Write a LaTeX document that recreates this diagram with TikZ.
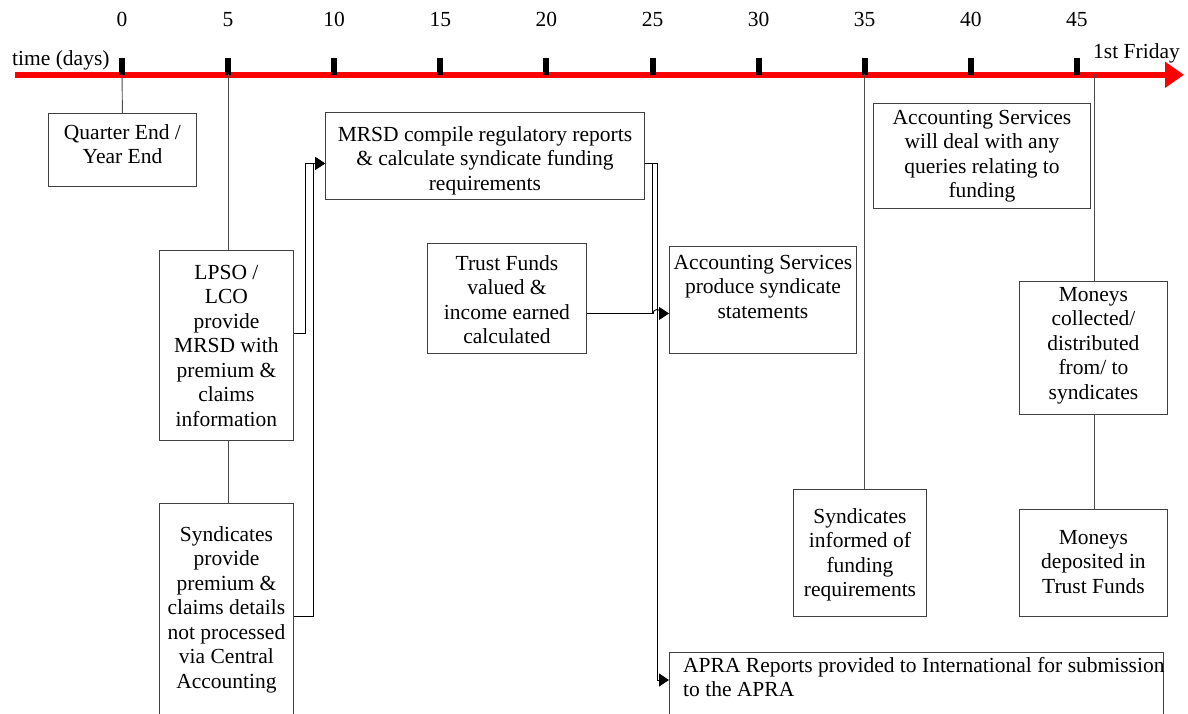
\documentclass[tikz,border=0pt]{standalone}
\usepackage{fontspec}
\setmainfont{Liberation Serif}
\newfontfamily\boxfont{Liberation Serif}
\usepackage{tikz}
\usetikzlibrary{arrows.meta, positioning, calc}

\begin{document}
\begin{tikzpicture}[
  x=1pt, y=-1pt,
  font=\boxfont\fontsize{21.5}{24.5}\selectfont,
  box/.style={draw=black!75, line width=0.9pt, anchor=north west, inner sep=0pt},
  boxtext/.style={anchor=north, align=center, inner sep=0pt},
  link/.style={black, line width=0.9pt},
  arr/.style={link, -{Triangle[length=10pt, width=13pt]}},
  tline/.style={black!70, line width=0.9pt},
]

  \useasboundingbox (0,0) rectangle (1188,713);
  \clip (0,0) rectangle (1188,713);

  % ── Time axis ──
  \coordinate (tstart) at (15,74.8);
  \coordinate (tend) at (1184,74.8);
  \draw[red, line width=6pt, -{Triangle[length=19pt, width=25pt]}] (tstart) -- (tend);
  \foreach \d in {0,5,...,45} {
    \coordinate (t\d) at ({122+\d*21.22},74);
    \fill (t\d) ++(-3,-16) rectangle ++(6,17);
    \node[anchor=base] at ({122+\d*21.22},26) {\d};
  }
  \coordinate (fri) at (1094,74);
  \node[anchor=base west, inner sep=0pt] (days) at (12,65) {time (days)};
  \node[anchor=base west, inner sep=0pt] (friday) at (1093,58) {1st Friday};

  % ── Boxes ──
  \node[box, minimum width=148, minimum height=73] (qe) at (48,113) {};
  \node[boxtext] (qe-t) at ([yshift=-11pt]qe.north) {Quarter End /\\Year End};

  \node[box, minimum width=134, minimum height=190] (lpso) at (159,250) {};
  \node[boxtext] (lpso-t) at ([yshift=-15pt]lpso.north) {LPSO /\\LCO\\provide\\MRSD with\\premium \&\\claims\\information};

  \node[box, minimum width=134, minimum height=260] (synd) at (159,503) {};
  \node[boxtext] (synd-t) at ([yshift=-23pt]synd.north) {Syndicates\\provide\\premium \&\\claims details\\not processed\\via Central\\Accounting};

  \node[box, minimum width=319, minimum height=87] (mrsd) at (325,112) {};
  \node[boxtext] (mrsd-t) at ([yshift=-14pt]mrsd.north) {MRSD compile regulatory reports\\\& calculate syndicate funding\\requirements};

  \node[box, minimum width=159, minimum height=110] (trust) at (427,243) {};
  \node[boxtext] (trust-t) at ([yshift=-12pt]trust.north) {Trust Funds\\valued \&\\income earned\\calculated};

  \node[box, minimum width=187, minimum height=107] (accstmt) at (669,246) {};
  \node[boxtext] (accstmt-t) at ([yshift=-9pt]accstmt.north) {Accounting Services\\produce syndicate\\statements};

  \node[box, minimum width=217, minimum height=105] (accq) at (873,103) {};
  \node[boxtext] (accq-t) at ([yshift=-7pt]accq.north) {Accounting Services\\will deal with any\\queries relating to\\funding};

  \node[box, minimum width=494, minimum height=100] (apra) at (669,652) {};
  \node[boxtext, anchor=north west, align=left] (apra-t) at ([xshift=14pt, yshift=-5pt]apra.north west) {APRA Reports provided to International for submission\\to the APRA};

  \node[box, minimum width=133, minimum height=127] (syndinf) at (793,489) {};
  \node[boxtext] (syndinf-t) at ([yshift=-19pt]syndinf.north) {Syndicates\\informed of\\funding\\requirements};

  \node[box, minimum width=148, minimum height=133] (collect) at (1019,281) {};
  \node[boxtext] (collect-t) at ([yshift=-6pt]collect.north) {Moneys\\collected/\\distributed\\from/ to\\syndicates};

  \node[box, minimum width=148, minimum height=107] (deposit) at (1019,509) {};
  \node[boxtext] (deposit-t) at ([yshift=-21pt]deposit.north) {Moneys\\deposited in\\Trust Funds};

  % ── Day markers ──
  \draw[tline] (t0) -- (qe.north);
  \draw[tline] (t5) -- (t5 |- lpso.north);
  \draw[tline] (t5 |- lpso.south) -- (t5 |- synd.north);
  \draw[tline] (t35) -- (t35 |- syndinf.north);
  \draw[tline] (fri) -- (fri |- collect.north);
  \draw[tline] (fri |- collect.south) -- (fri |- deposit.north);

  % ── Connectors ──
  \coordinate (mrsd-in) at ([yshift=-7.5pt]mrsd.west);
  \coordinate (acc-in) at ([yshift=-13.5pt]accstmt.west);
  \coordinate (apra-in) at ([yshift=-28pt]apra.north west);

  \draw[arr] ([yshift=12pt]lpso.east) -- ++(12,0) |- (mrsd-in);
  \draw[arr] ([yshift=-113pt]synd.north east) -- ++(20,0) |- (mrsd-in);

  \draw[arr] ([yshift=-7.5pt]mrsd.east) -- ++(13,0) |- (apra-in);
  \draw[link] ([yshift=-7.5pt]mrsd.east) -- ++(8,0) |- ([xshift=-16pt]acc-in);
  \draw[arr] (trust.east |- acc-in) -- ([xshift=-16pt]acc-in)
    arc[start angle=180, end angle=0, radius=4pt] -- (acc-in);

\end{tikzpicture}
\end{document}
